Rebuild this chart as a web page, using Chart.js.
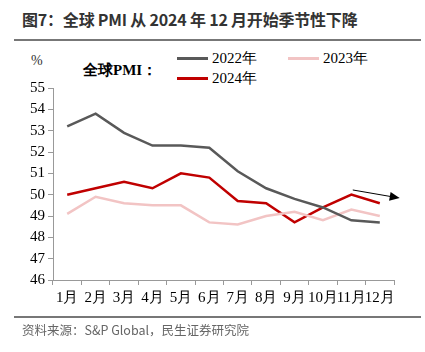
<!DOCTYPE html>
<html>
<head>
<meta charset="utf-8">
<script src="https://cdn.jsdelivr.net/npm/chart.js@4"></script>
<style>
  body { margin: 0; background: #fff; }
  #wrap { position: relative; width: 425px; height: 352px; overflow: hidden; }
  #chart { position: absolute; left: 0; top: 0; }
  .txt { position: absolute; white-space: nowrap; }
  .title { left: 22px; top: 7px; font: bold 16px "Noto Sans CJK SC", sans-serif; color: #333; letter-spacing: -0.2px; }
  .rule { position: absolute; left: 14px; right: 4px; height: 2px; background: #777; }
  .source { left: 22px; top: 320px; font: 12.5px "Noto Sans CJK SC", sans-serif; color: #666; }
  .unit { left: 31px; top: 53px; font: 14px "Liberation Serif", "Times New Roman", serif; color: #333; }
  .sub { left: 83px; top: 61px; font: bold 15px "Liberation Serif", "Times New Roman", serif; color: #000; }
  .leg { position: absolute; font: 15px "Liberation Serif", "Times New Roman", serif; color: #000; display: flex; align-items: center; }
  .leg i { display: inline-block; width: 31px; height: 2.5px; margin-right: 4px; }
</style>
</head>
<body>
<div id="wrap">
  <div class="txt title">图7：全球 PMI 从 2024 年 12 月开始季节性下降</div>
  <div class="rule" style="top:39px"></div>
  <div class="txt unit">%</div>
  <div class="txt sub">全球PMI：</div>
  <div id="legend"></div>
  <canvas id="chart" width="425" height="352"></canvas>
  <div class="rule" style="top:316px"></div>
  <div class="txt source">资料来源：S&amp;P Global，民生证券研究院</div>
</div>
<script>
const months = ['1月', '2月', '3月', '4月', '5月', '6月', '7月', '8月', '9月', '10月', '11月', '12月'];
const pmi2022 = [53.2, 53.8, 52.9, 52.3, 52.3, 52.2, 51.1, 50.3, 49.8, 49.4, 48.8, 48.7];
const pmi2023 = [49.1, 49.9, 49.6, 49.5, 49.5, 48.7, 48.6, 49.0, 49.2, 48.8, 49.3, 49.0];
const pmi2024 = [50.0, 50.3, 50.6, 50.3, 51.0, 50.8, 49.7, 49.6, 48.7, 49.4, 50.0, 49.6];
const yTicks = [46, 47, 48, 49, 50, 51, 52, 53, 54, 55];

const series = [
  { label: '2022年', data: pmi2022, color: '#595959' },
  { label: '2023年', data: pmi2023, color: '#f2c4c4' },
  { label: '2024年', data: pmi2024, color: '#c00000' }
];

// legend positions (two columns, two rows like the original)
const legendPos = [[177, 49], [288, 49], [177, 69]];
const legendEl = document.getElementById('legend');
series.forEach((s, i) => {
  const d = document.createElement('div');
  d.className = 'leg';
  d.style.left = legendPos[i][0] + 'px';
  d.style.top = legendPos[i][1] + 'px';
  d.innerHTML = '<i style="background:' + s.color + '"></i>' + s.label;
  legendEl.appendChild(d);
});

// trend arrow drawn in data coordinates
const arrowPlugin = {
  id: 'trendArrow',
  afterDatasetsDraw(chart) {
    const { ctx, scales: { x, y } } = chart;
    const x0 = x.getPixelForValue(10.05), y0 = y.getPixelForValue(50.22);
    const x1 = x.getPixelForValue(11.7), y1 = y.getPixelForValue(49.84);
    const ang = Math.atan2(y1 - y0, x1 - x0);
    ctx.save();
    ctx.strokeStyle = '#000';
    ctx.fillStyle = '#000';
    ctx.lineWidth = 1;
    ctx.beginPath();
    ctx.moveTo(x0, y0);
    ctx.lineTo(x1 - 8 * Math.cos(ang), y1 - 8 * Math.sin(ang));
    ctx.stroke();
    ctx.beginPath();
    ctx.moveTo(x1, y1);
    ctx.lineTo(x1 - 10 * Math.cos(ang) + 4.5 * Math.sin(ang), y1 - 10 * Math.sin(ang) - 4.5 * Math.cos(ang));
    ctx.lineTo(x1 - 10 * Math.cos(ang) - 4.5 * Math.sin(ang), y1 - 10 * Math.sin(ang) + 4.5 * Math.cos(ang));
    ctx.closePath();
    ctx.fill();
    ctx.restore();
  }
};

const tickFont = { family: '"Liberation Serif", "Times New Roman", serif', size: 15 };

new Chart(document.getElementById('chart'), {
  type: 'line',
  data: {
    labels: months,
    datasets: series.map(s => ({
      label: s.label,
      data: s.data,
      borderColor: s.color,
      backgroundColor: s.color,
      borderWidth: 2.5,
      pointRadius: 0,
      tension: 0
    }))
  },
  options: {
    responsive: false,
    animation: false,
    layout: { padding: { left: 0, top: 88, right: 31, bottom: 42 } },
    plugins: { legend: { display: false }, tooltip: { enabled: false } },
    scales: {
      x: {
        offset: true,
        grid: { offset: true, drawOnChartArea: false, tickLength: 5, color: '#999' },
        border: { color: '#999' },
        ticks: { font: tickFont, color: '#000', maxRotation: 0, autoSkip: false, padding: 4 },
        afterFit: s => { s.height = 30; }
      },
      y: {
        min: 46,
        max: 55,
        afterBuildTicks: s => { s.ticks = yTicks.map(v => ({ value: v })); },
        grid: { drawOnChartArea: false, tickLength: 5, color: '#999' },
        border: { color: '#999' },
        ticks: { font: tickFont, color: '#000', padding: 3 },
        afterFit: s => { s.width = 53; }
      }
    }
  },
  plugins: [arrowPlugin]
});
</script>
</body>
</html>
